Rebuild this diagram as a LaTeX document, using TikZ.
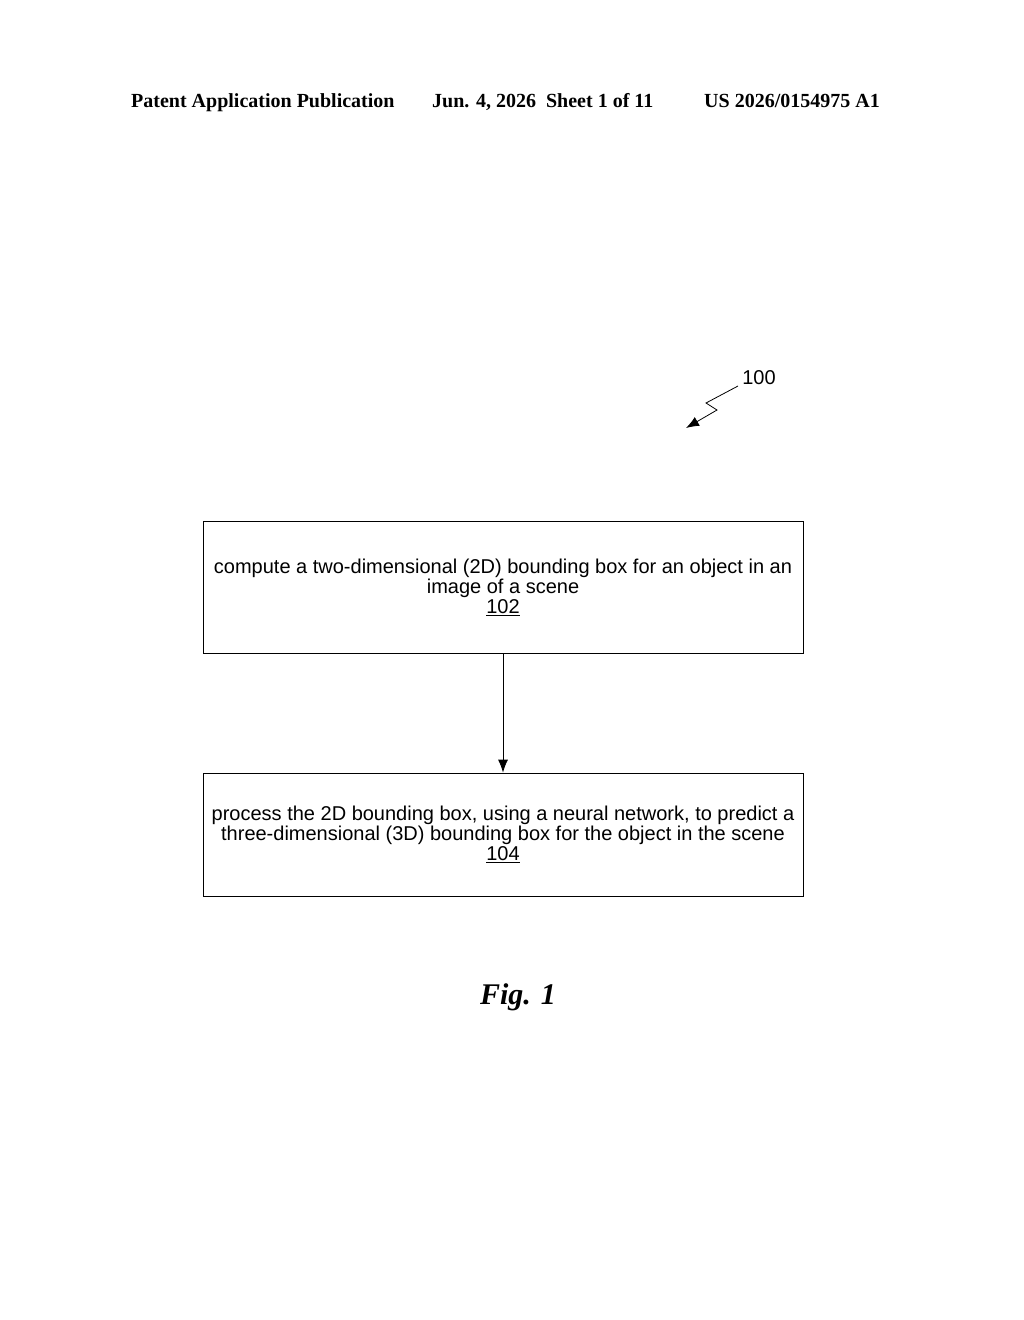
\documentclass[tikz,border=0pt]{standalone}
\usepackage{fontspec}
\setmainfont{Liberation Serif}
\newfontfamily\arial{Liberation Sans}
\usetikzlibrary{arrows.meta}
\begin{document}
\begin{tikzpicture}[x=1pt,y=-1pt,
  box/.style={draw,line width=0.8pt,minimum width=600pt,inner sep=0pt,align=center,font=\arial\fontsize{20}{20}\selectfont},
  hdr/.style={font=\bfseries\fontsize{20}{22}\selectfont,anchor=base west,inner sep=0pt},
  arr/.style={-{Latex[length=13pt,width=10pt]},line width=0.8pt}]
\useasboundingbox (0,0) rectangle (1024,1320);
\node[hdr] (h1) at (131,107) {Patent Application Publication};
\node[hdr] (h2) at (432,107) {Jun. 4, 2026\hspace{0.5em}Sheet 1 of 11};
\node[hdr] (h3) at (704,107) {US 2026/0154975 A1};
\node[font=\arial\fontsize{20}{22}\selectfont] (n100) at (759,378) {100};
\coordinate (z0) at (738,386);
\coordinate (z3) at (686,428);
\draw[arr] (z0) -- (706,403) -- (717,410) -- (z3);
\node[box,minimum height=132pt] (b1) at (503,587) {compute a two-dimensional (2D) bounding box for an object in an\\ image of a scene\\ \underline{102}};
\node[box,minimum height=123pt] (b2) at (503,834.5) {process the 2D bounding box, using a neural network, to predict a\\ three-dimensional (3D) bounding box for the object in the scene\\ \underline{104}};
\draw[arr] (b1) -- (b2);
\node[font=\bfseries\itshape\fontsize{30}{32}\selectfont] (fig) at (518,997) {Fig. 1};
\end{tikzpicture}
\end{document}
